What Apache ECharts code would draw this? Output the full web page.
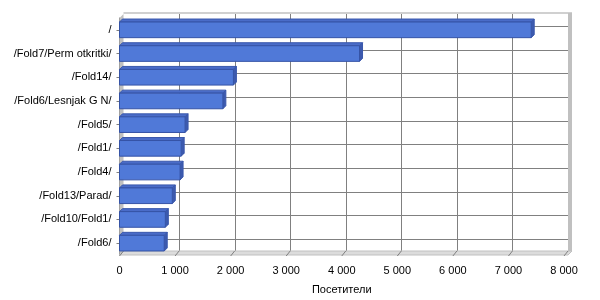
<!DOCTYPE html>
<html>
<head>
<meta charset="utf-8">
<script src="https://cdn.jsdelivr.net/npm/echarts@6/dist/echarts.min.js"></script>
<style>html,body{margin:0;padding:0;background:#fff}#c{width:600px;height:300px}</style>
</head>
<body>
<div id="c"></div>
<script>
const categories = ['/', '/Fold7/Perm otkritki/', '/Fold14/', '/Fold6/Lesnjak G N/', '/Fold5/', '/Fold1/', '/Fold4/', '/Fold13/Parad/', '/Fold10/Fold1/', '/Fold6/'];
const visitors = [7410, 4320, 2050, 1860, 1180, 1110, 1090, 950, 825, 805];
const xTicks = [0, 1000, 2000, 3000, 4000, 5000, 6000, 7000, 8000];
const axisTitle = 'Посетители';

const DX = 4, DY = -4, BD = 3;
const FONT = 'Liberation Sans';

function fmt(v) { return String(v).replace(/\B(?=(\d{3})+(?!\d))/g, ' '); }

const chart = echarts.init(document.getElementById('c'), null, {renderer: 'canvas'});

function frameRender(params, api) {
  const cs = params.coordSys;
  const L = cs.x, T = cs.y, R = cs.x + cs.width, B = cs.y + cs.height;
  const ch = [];
  ch.push({type: 'rect', shape: {x: L + DX, y: T + DY, width: cs.width, height: cs.height}, style: {fill: '#ffffff'}});
  xTicks.forEach(v => {
    const X = api.coord([v, 0])[0];
    if (v > 0) ch.push({type: 'line', shape: {x1: Math.round(X + DX) + 0.5, y1: T + DY, x2: Math.round(X + DX) + 0.5, y2: B + DY}, style: {stroke: '#808080', lineWidth: 1}});
  });
  categories.forEach((c, i) => {
    const Y = Math.round(api.coord([0, i])[1] + DY) + 0.5;
    ch.push({type: 'line', shape: {x1: L + DX, y1: Y, x2: R + DX, y2: Y}, style: {stroke: '#808080', lineWidth: 1}});
  });
  ch.push({type: 'line', shape: {x1: L + DX, y1: T + DY - 1, x2: R + DX + 4, y2: T + DY - 1}, style: {stroke: '#d0d0d0', lineWidth: 2}});
  ch.push({type: 'rect', shape: {x: R + DX, y: T + DY - 1, width: 4, height: cs.height + 1}, style: {fill: '#c0c0c0'}});
  ch.push({type: 'polygon', shape: {points: [[L, T], [L + DX, T + DY], [L + DX, B + DY], [L, B]]}, style: {fill: '#c0c0c0'}});
  ch.push({type: 'polygon', shape: {points: [[L, B], [L + DX, B + DY], [R + DX + 4, B + DY], [R + 4, B]]}, style: {fill: '#dcdcdc', stroke: '#c0c0c0', lineWidth: 1}});
  xTicks.forEach(v => {
    const X = api.coord([v, 0])[0];
    ch.push({type: 'line', shape: {x1: X + DX, y1: B + DY, x2: X, y2: B + 1}, style: {stroke: '#808080', lineWidth: 1}});
  });
  return {type: 'group', children: ch};
}

function barRender(params, api) {
  const v = api.value(0), i = api.value(1);
  const p0 = api.coord([0, i]);
  const p1 = api.coord([v, i]);
  const bh = api.size([0, 1])[1] * 0.66;
  const x0 = p0[0], x1 = p1[0];
  const top = p0[1] - bh / 2;
  return {type: 'group', children: [
    {type: 'polygon', shape: {points: [[x0, top], [x0 + BD, top - BD], [x1 + BD, top - BD], [x1, top]]}, style: {fill: '#4a6cc8', stroke: '#3a58ac', lineWidth: 1}},
    {type: 'polygon', shape: {points: [[x1, top], [x1 + BD, top - BD], [x1 + BD, top + bh - BD], [x1, top + bh]]}, style: {fill: '#3c5aae', stroke: '#3a58ac', lineWidth: 1}},
    {type: 'rect', shape: {x: x0, y: top, width: x1 - x0, height: bh}, style: {fill: '#5079d8', stroke: '#3553a6', lineWidth: 1}}
  ]};
}

chart.setOption({
  animation: false,
  backgroundColor: '#ffffff',
  textStyle: {fontFamily: FONT},
  grid: {left: 119.5, top: 18, width: 444.5, height: 238, containLabel: false},
  xAxis: {
    type: 'value', min: 0, max: 8000, interval: 1000,
    axisLine: {show: false}, axisTick: {show: false}, splitLine: {show: false},
    axisLabel: {formatter: fmt, color: '#000', fontSize: 11, fontFamily: FONT, margin: 10},
    name: axisTitle, nameLocation: 'middle', nameGap: 29,
    nameTextStyle: {color: '#000', fontSize: 11, fontFamily: FONT}
  },
  yAxis: {
    type: 'category', data: categories, inverse: true, offset: 3,
    axisLine: {show: true, lineStyle: {color: '#808080'}},
    axisTick: {show: true, alignWithLabel: true, length: 3, lineStyle: {color: '#808080'}},
    splitLine: {show: false},
    axisLabel: {color: '#000', fontSize: 11, fontFamily: FONT, margin: 5}
  },
  series: [
    {type: 'custom', name: 'frame', renderItem: frameRender, data: [[0, 0]], encode: {x: 0, y: 1}, silent: true, z: 1, clip: false},
    {type: 'custom', name: 'Посетители', renderItem: barRender, data: visitors.map((v, i) => [v, i]), encode: {x: 0, y: 1}, z: 3, clip: false}
  ]
});
</script>
</body>
</html>
